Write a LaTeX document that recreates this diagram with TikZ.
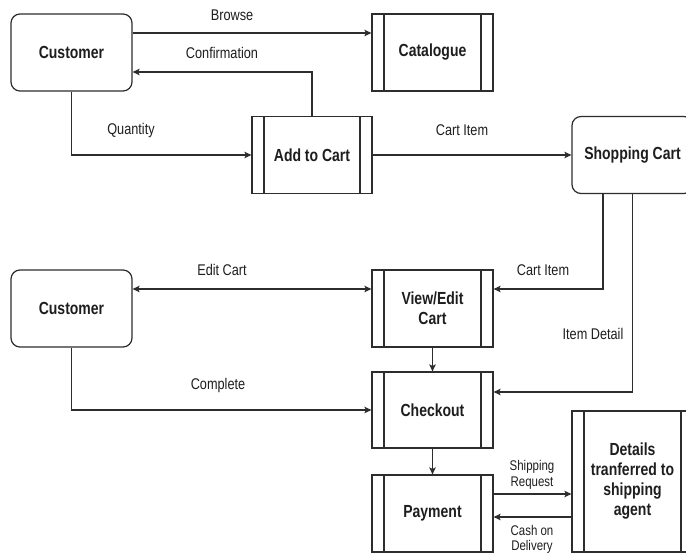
\documentclass[tikz,border=0pt]{standalone}
\usepackage{fontspec}
\setmainfont{Liberation Sans}
\newfontfamily\boxfont[FakeStretch=0.8]{Liberation Sans}
\newfontfamily\lblfont[FakeStretch=0.82]{Liberation Sans}
\usetikzlibrary{arrows.meta}
\definecolor{linecol}{RGB}{45,45,45}
\definecolor{txtcol}{RGB}{30,30,30}
\tikzset{
  base/.style={draw=linecol, line width=1.2pt, minimum width=121pt, minimum height=77pt,
    align=center, text=txtcol, font=\boxfont\fontsize{17.5}{20}\selectfont\bfseries, inner sep=2pt},
  entity/.style={base, rounded corners=9pt},
  procbox/.style={base, path picture={
    \draw[linecol, line width=1.2pt]
      ([xshift=12pt]path picture bounding box.north west) -- ([xshift=12pt]path picture bounding box.south west)
      ([xshift=-12pt]path picture bounding box.north east) -- ([xshift=-12pt]path picture bounding box.south east);}},
  arr/.style={draw=linecol, line width=1.2pt, -{Stealth[length=7pt,width=6.5pt,inset=1.5pt]}},
  biarr/.style={draw=linecol, line width=1.2pt, {Stealth[length=7pt,width=6.5pt,inset=1.5pt]}-{Stealth[length=7pt,width=6.5pt,inset=1.5pt]}},
  lbl/.style={text=txtcol, font=\lblfont\fontsize{15.5}{17}\selectfont, align=center, inner sep=1pt}
}
\begin{document}
\begin{tikzpicture}[x=1pt,y=-1pt]
\clip (0,0) rectangle (686,556);
\fill[white] (0,0) rectangle (686,556);

\node[entity] (cust1) at (71.5,52.5) {Customer};
\node[procbox] (cat) at (432.5,52.5) {Catalogue};
\node[procbox, minimum width=120pt] (add) at (312,155) {Add to Cart};
\node[entity] (shop) at (632.5,155) {Shopping Cart};
\node[entity] (cust2) at (71.5,308.5) {Customer};
\node[procbox] (view) at (432.5,308.5) {View/Edit\\Cart};
\node[procbox, minimum height=76pt] (check) at (432.5,410) {Checkout};
\node[procbox] (pay) at (432.5,513.5) {Payment};
\node[procbox, minimum height=141pt] (det) at (632.5,481.5) {Details\\tranferred to\\shipping\\agent};

\draw[arr] ([yshift=19.5pt]cust1.east) -- ([yshift=19.5pt]cat.west);
\draw[arr] (add.north) |- ([yshift=-19.5pt]cust1.east);
\draw[arr] (cust1.south) |- (add.west);
\draw[arr] (add.east) -- (shop.west);
\draw[arr] ([xshift=-29.5pt]shop.south) |- ([yshift=19.5pt]view.east);
\draw[arr] (shop.south) |- ([yshift=18pt]check.east);
\draw[biarr] ([yshift=19.5pt]cust2.east) -- ([yshift=19.5pt]view.west);
\draw[arr] (cust2.south) |- (check.west);
\draw[arr] (view.south) -- (check.north);
\draw[arr] (check.south) -- (pay.north);
\draw[arr] ([yshift=19.5pt]pay.east) -- ([yshift=19.5pt]pay.east -| det.west);
\draw[arr] ([yshift=-3.5pt]pay.east -| det.west) -- ([yshift=-3.5pt]pay.east);

\node[lbl] (lbrowse) at (232,15) {Browse};
\node[lbl] (lconf) at (222,53) {Confirmation};
\node[lbl] (lqty) at (131,130) {Quantity};
\node[lbl] (lci1) at (462,130) {Cart Item};
\node[lbl] (lci2) at (543,270) {Cart Item};
\node[lbl] (lid) at (593,334) {Item Detail};
\node[lbl] (ledit) at (222,270) {Edit Cart};
\node[lbl] (lcomp) at (218,385) {Complete};
\node[lbl, font=\lblfont\fontsize{14}{15.5}\selectfont] (lship) at (532,475) {Shipping\\Request};
\node[lbl, font=\lblfont\fontsize{14}{15}\selectfont] (lcash) at (532,539) {Cash on\\Delivery};
\end{tikzpicture}
\end{document}
